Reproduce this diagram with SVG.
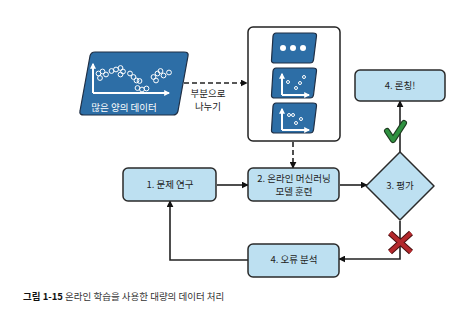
<svg xmlns="http://www.w3.org/2000/svg" width="460" height="311" viewBox="0 0 460 311">
<defs>
<style>
.box{fill:#bde0f1;stroke:#2a2a2a;stroke-width:1.5}
.dark{fill:#2d6ea6;stroke:#1f2f45;stroke-width:1.2;stroke-linejoin:round}
.t{font-family:"Noto Sans CJK KR","Noto Sans",sans-serif;font-size:9.5px;fill:#222;text-anchor:middle}
.w{fill:#fff}
.ax{stroke:#fff;stroke-width:2;fill:none}
.dot{fill:none;stroke:#fff;stroke-width:1}
.c{fill:none;stroke:#222;stroke-width:1.6}
.d{stroke-dasharray:5,3}
</style>
<marker id="ah" viewBox="0 0 10 10" refX="9" refY="5" markerWidth="7" markerHeight="7" orient="auto" markerUnits="userSpaceOnUse">
<path d="M0,0L10,5L0,10z" fill="#111"/>
</marker>
<marker id="wh" viewBox="0 0 10 10" refX="8" refY="5" markerWidth="6" markerHeight="6" orient="auto" markerUnits="userSpaceOnUse">
<path d="M0,0L10,5L0,10z" fill="#fff"/>
</marker>
</defs>
<rect width="460" height="311" fill="#fff"/>

<g id="connectors">
<path class="c d" d="M184,83H247" marker-end="url(#ah)"/>
<path class="c d" d="M293,142V168" marker-end="url(#ah)"/>
<path class="c" d="M217,185H248" marker-end="url(#ah)"/>
<path class="c" d="M340,185H367" marker-end="url(#ah)"/>
<path class="c" d="M400,152V101" marker-end="url(#ah)"/>
<path class="c" d="M400,221V259H339" marker-end="url(#ah)"/>
<path class="c" d="M248,260H170V201" marker-end="url(#ah)"/>
<text class="t" x="208" y="97" font-size="9">부분으로</text>
<text class="t" x="208" y="110" font-size="9">나누기</text>
</g>

<g id="data">
<path class="dark" d="M95,52H184Q189,52 188,56L178,111Q177,115 173,115H84Q79,115 80,111L90,56Q91,52 95,52Z"/>
<path class="ax" d="M93,93V64" marker-end="url(#wh)"/>
<path class="ax" d="M93,93H169" marker-end="url(#wh)"/>
<g class="dot">
<circle cx="98.5" cy="73.5" r="2.4"/><circle cx="102.5" cy="71.5" r="2.4"/><circle cx="106" cy="74.5" r="2.4"/><circle cx="100" cy="78" r="2.4"/>
<circle cx="111.5" cy="71" r="2.4"/><circle cx="116" cy="69.5" r="2.4"/><circle cx="120.5" cy="68" r="2.4"/><circle cx="123" cy="71.5" r="2.4"/><circle cx="120.5" cy="74.5" r="2.4"/>
<circle cx="130" cy="73.5" r="2.4"/><circle cx="133.5" cy="77" r="2.4"/><circle cx="136.5" cy="80.5" r="2.4"/><circle cx="139.5" cy="81" r="2.4"/>
<circle cx="137.5" cy="88" r="2.4"/><circle cx="142" cy="89.5" r="2.4"/><circle cx="146.5" cy="88.5" r="2.4"/>
<circle cx="153.5" cy="77" r="2.4"/><circle cx="157.5" cy="73.5" r="2.4"/><circle cx="160.5" cy="71" r="2.4"/><circle cx="156" cy="80.5" r="2.4"/><circle cx="163.5" cy="75.5" r="2.4"/><circle cx="169" cy="72.5" r="2.4"/>
</g>
<text class="t w" x="124" y="111" font-size="10">많은 양의 데이터</text>
</g>

<g id="batches">
<rect x="248" y="27" width="92" height="114" rx="5" fill="#fff" stroke="#222" stroke-width="1.5"/>
<path class="dark" d="M276,33H313Q317,33 316.5,36L313.5,60Q313,63 310,63H275Q271,63 271.5,60L273,36Q273.5,33 276,33Z"/>
<circle cx="283" cy="48" r="3" fill="#fff"/><circle cx="293" cy="48" r="3" fill="#fff"/><circle cx="303" cy="48" r="3" fill="#fff"/>
<path class="dark" d="M276,68H313Q317,68 316.5,71L313.5,95Q313,98 310,98H275Q271,98 271.5,95L273,71Q273.5,68 276,68Z"/>
<path class="ax" d="M282,95V74" stroke-width="1.5" marker-end="url(#wh)"/>
<path class="ax" d="M282,95H309" stroke-width="1.5" marker-end="url(#wh)"/>
<g class="dot" stroke-width="0.8"><circle cx="288" cy="82" r="1.5"/><circle cx="296" cy="88" r="1.5"/><circle cx="300" cy="83" r="1.5"/><circle cx="304" cy="77" r="1.5"/></g>
<path class="dark" d="M276,103H313Q317,103 316.5,106L313.5,130Q313,133 310,133H275Q271,133 271.5,130L273,106Q273.5,103 276,103Z"/>
<path class="ax" d="M282,130V109" stroke-width="1.5" marker-end="url(#wh)"/>
<path class="ax" d="M282,130H309" stroke-width="1.5" marker-end="url(#wh)"/>
<g class="dot" stroke-width="0.8"><circle cx="289" cy="115" r="1.5"/><circle cx="293" cy="115" r="1.5"/><circle cx="301" cy="119" r="1.5"/><circle cx="296" cy="123" r="1.5"/></g>
</g>

<g id="launch">
<rect class="box" x="355" y="70" width="90" height="31" rx="5"/>
<text class="t" x="400" y="89">4. 론칭!</text>
</g>

<g id="research">
<rect class="box" x="123" y="168" width="93" height="33" rx="5"/>
<text class="t" x="170" y="188">1. 문제 연구</text>
</g>

<g id="train">
<rect class="box" x="248" y="168" width="91" height="33" rx="5"/>
<text class="t" x="294" y="182">2. 온라인 머신러닝</text>
<text class="t" x="294" y="195">모델 훈련</text>
</g>

<g id="evaluate">
<path class="box" d="M400,152L434,186L400,220L366,186Z" stroke-linejoin="round"/>
<text class="t" x="400" y="189">3. 평가</text>
</g>

<g id="analysis">
<rect class="box" x="248" y="244" width="91" height="33" rx="5"/>
<text class="t" x="294" y="263">4. 오류 분석</text>
</g>

<g id="check">
<path d="M387,131L393,140L404,123" fill="none" stroke="#1d3a1f" stroke-width="6" stroke-linecap="round" stroke-linejoin="round"/>
<path d="M387,131L393,140L404,123" fill="none" stroke="#2f9140" stroke-width="4" stroke-linecap="round" stroke-linejoin="round"/>
</g>
<g id="cross">
<path d="M390,233L411,252M411,233L390,252" fill="none" stroke="#4a1010" stroke-width="6"/>
<path d="M390,233L411,252M411,233L390,252" fill="none" stroke="#b3282c" stroke-width="4"/>
</g>

<text x="23" y="300" font-family="Noto Sans CJK KR,Noto Sans,sans-serif" font-size="9.5" fill="#333"><tspan font-weight="bold" fill="#111">그림 1-15</tspan> 온라인 학습을 사용한 대량의 데이터 처리</text>
</svg>
